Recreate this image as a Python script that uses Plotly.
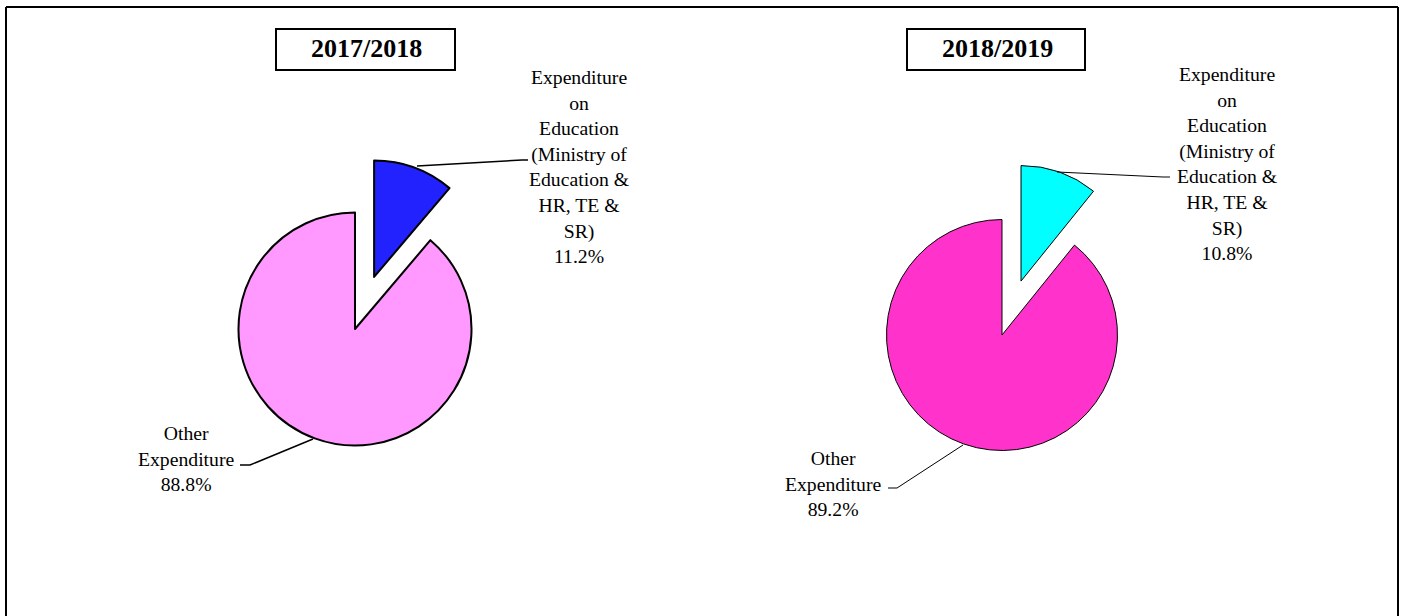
import plotly.graph_objects as go

# ---- data ----
years = ["2017/2018", "2018/2019"]
label_lines = [
    ["Expenditure", "on", "Education", "(Ministry of", "Education &", "HR, TE &", "SR)"],
    ["Other", "Expenditure"],
]
labels = [" ".join(l) for l in label_lines]
values_2017 = [11.2, 88.8]
values_2018 = [10.8, 89.2]
colors_2017 = ["#2222FF", "#FF99FF"]
colors_2018 = ["#00FFFF", "#FF33CC"]

W, H = 1402, 616
FONT = "Times New Roman, Liberation Serif, serif"


def fx(x):
    return x / W


def fy(y):
    return 1 - y / H


fig = go.Figure()

# pie geometry (pixel centres, radius, pull)
pies = [
    dict(vals=values_2017, cols=colors_2017, cx=355, cy=329, r=116.5, pull=0.476, lw=2),
    dict(vals=values_2018, cols=colors_2018, cx=1002, cy=335, r=115.5, pull=0.495, lw=1),
]
for p in pies:
    half = p["r"] * (1 + p["pull"])
    fig.add_trace(go.Pie(
        labels=labels,
        values=p["vals"],
        sort=False,
        direction="clockwise",
        rotation=0,
        pull=[p["pull"], 0],
        marker=dict(colors=p["cols"], line=dict(color="black", width=p["lw"])),
        textinfo="none",
        hoverinfo="label+percent",
        showlegend=False,
        domain=dict(x=[fx(p["cx"] - half), fx(p["cx"] + half)],
                    y=[fy(p["cy"] + half), fy(p["cy"] - half)]),
    ))

annotations = []
shapes = []

# outer border (left, top, right)
for (x0, y0, x1, y1) in [(6, 7, 6, 640), (6, 7, 1398, 7), (1398, 7, 1398, 640)]:
    shapes.append(dict(type="line", xref="paper", yref="paper",
                       x0=fx(x0), y0=fy(y0), x1=fx(x1), y1=fy(y1),
                       line=dict(color="black", width=2)))

# year title boxes
title_boxes = [(276, 29, 455, 70), (907, 29, 1085, 70)]
for yr, (x0, y0, x1, y1) in zip(years, title_boxes):
    shapes.append(dict(type="rect", xref="paper", yref="paper",
                       x0=fx(x0), y0=fy(y1), x1=fx(x1), y1=fy(y0),
                       line=dict(color="black", width=2), fillcolor="white"))
    annotations.append(dict(text="<b>%s</b>" % yr, xref="paper", yref="paper",
                            x=fx((x0 + x1) / 2 + 1), y=fy((y0 + y1) / 2 - 1),
                            xanchor="center", yanchor="middle", showarrow=False,
                            font=dict(family=FONT, size=26, color="black")))

# slice labels and leader lines
label_pos = [
    (values_2017, [(579, 167), (186, 458)],
     [[(417, 166), (522, 160), (528, 160)], [(313, 439), (250, 465), (240, 465)]], 1.5),
    (values_2018, [(1227, 163), (833, 483)],
     [[(1057, 172), (1163, 177), (1170, 177)], [(963, 445), (897, 488), (888, 488)]], 1),
]
for vals, poss, leaders, lw in label_pos:
    for i, (cx, cy) in enumerate(poss):
        txt = "<br>".join(label_lines[i] + ["%.1f%%" % vals[i]])
        annotations.append(dict(text=txt, xref="paper", yref="paper",
                                x=fx(cx), y=fy(cy), xanchor="center", yanchor="middle",
                                showarrow=False, align="center",
                                font=dict(family=FONT, size=19.7, color="black")))
    for poly in leaders:
        for (xa, ya), (xb, yb) in zip(poly[:-1], poly[1:]):
            shapes.append(dict(type="line", xref="paper", yref="paper",
                               x0=fx(xa), y0=fy(ya), x1=fx(xb), y1=fy(yb),
                               line=dict(color="black", width=lw)))

fig.update_layout(
    width=W, height=H,
    margin=dict(l=0, r=0, t=0, b=0),
    paper_bgcolor="white", plot_bgcolor="white",
    shapes=shapes, annotations=annotations,
)

fig.write_html("out.html", config={"displayModeBar": False},
               post_script="document.body.style.margin='0';document.body.style.overflow='hidden';")
